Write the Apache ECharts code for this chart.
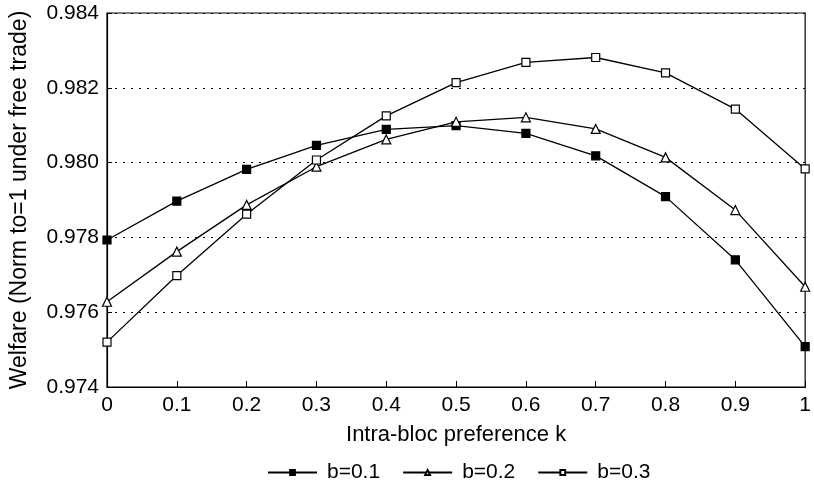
<!DOCTYPE html>
<html><head><meta charset="utf-8">
<script src="https://cdn.jsdelivr.net/npm/echarts@6/dist/echarts.min.js"></script>
<style>html,body{margin:0;padding:0;background:#fff}#c{width:814px;height:484px}</style>
</head><body><div id="c"></div>
<script>
const kValues = [0, 0.1, 0.2, 0.3, 0.4, 0.5, 0.6, 0.7, 0.8, 0.9, 1];
const b01 = [0.97793, 0.97897, 0.97982, 0.98046, 0.98089, 0.98099, 0.98078, 0.98018, 0.97909, 0.97740, 0.97508];
const b02 = [0.97628, 0.97762, 0.97887, 0.97989, 0.98062, 0.98109, 0.98121, 0.98090, 0.98014, 0.97873, 0.97668];
const b03 = [0.97520, 0.97698, 0.97862, 0.98007, 0.98125, 0.98214, 0.98268, 0.98281, 0.98240, 0.98143, 0.97983];
const seriesNames = ['b=0.1', 'b=0.2', 'b=0.3'];
const xTitle = 'Intra-bloc preference k';
const yTitle = 'Welfare (Norm to=1 under free trade)';

const font = 'Liberation Sans, Arial, Helvetica, sans-serif';
function pts(arr){ return kValues.map((k,i)=>[k, arr[i]]); }
function mk(name, data, symbol, fill){
  return {
    name, type:'line', data: pts(data), symbol, symbolSize: symbol==='triangle'?9:8,
    lineStyle:{color:'#000', width:1.3},
    itemStyle:{color: fill, borderColor:'#000', borderWidth:1.2},
    emphasis:{disabled:true}, animation:false
  };
}
const chart = echarts.init(document.getElementById('c'));
chart.setOption({
  animation:false,
  grid:{left:106, right:2, top:13, bottom:97, show:true, borderColor:'#000', borderWidth:1.2},
  legend:{
    top:457, left:262, itemWidth:49, itemHeight:6, itemGap:22,
    textStyle:{fontFamily:font, fontSize:21, color:'#000', padding:[0,0,0,5]},
    data: seriesNames
  },
  xAxis:{
    type:'value', min:0, max:1, interval:0.1,
    name:xTitle, nameLocation:'middle', nameGap:37,
    nameTextStyle:{fontFamily:font, fontSize:22, color:'#000'},
    axisLine:{show:true, lineStyle:{color:'#000', width:1.2}},
    axisTick:{show:true, inside:true, length:6, lineStyle:{color:'#000'}},
    axisLabel:{fontFamily:font, fontSize:21, color:'#000', margin:8,
      formatter:v=>String(parseFloat(v.toFixed(1)))},
    splitLine:{show:false}
  },
  yAxis:{
    type:'value', min:0.974, max:0.984, interval:0.002,
    name:yTitle, nameLocation:'middle', nameGap:76, nameRotate:90,
    nameTextStyle:{fontFamily:font, fontSize:23, color:'#000'},
    axisLine:{show:true, lineStyle:{color:'#000', width:1.2}},
    axisTick:{show:true, inside:true, length:5, lineStyle:{color:'#000'}},
    axisLabel:{fontFamily:font, fontSize:21, color:'#000', margin:8,
      formatter:v=>v.toFixed(3)},
    splitLine:{show:true, lineStyle:{color:'#000', type:[2,6], width:1.2}}
  },
  series:[
    mk(seriesNames[0], b01, 'rect', '#000'),
    mk(seriesNames[1], b02, 'triangle', '#fff'),
    mk(seriesNames[2], b03, 'rect', '#fff')
  ]
});
</script></body></html>
